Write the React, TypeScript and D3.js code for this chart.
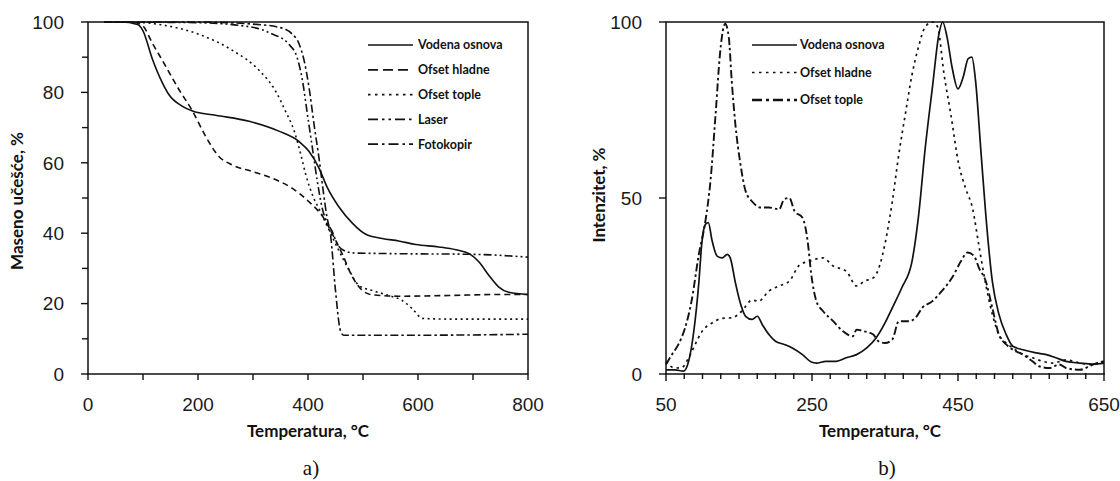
import React from 'react';
import * as d3 from 'd3';

// ---------- Data: panel a) TGA (temperature °C, mass %) ----------
const tgaVodena: [number, number][] = [
  [30, 100], [60, 100], [90, 99.3], [100, 97.5], [117, 89.5], [135, 82.8], [147, 79.4], [171, 76.1],
  [190, 74.7], [232, 73.5], [293, 71.8], [347, 69], [384, 66], [402, 63.2], [420, 58.5], [435, 53],
  [456, 47.5], [481, 42.8], [505, 39.7], [535, 38.5], [565, 37.8], [596, 36.8], [638, 36.1],
  [669, 35.3], [693, 34.2], [711, 31.8], [729, 28], [747, 24.7], [765, 23.2], [800, 22.6],
];
const tgaOfsetHladne: [number, number][] = [
  [30, 100], [80, 100], [99, 99], [117, 94], [141, 87.5], [165, 80.9], [190, 74.7], [214, 67.5],
  [238, 61.8], [262, 59.4], [299, 57.5], [335, 55.6], [371, 52.8], [402, 48.9], [429, 44.2],
  [444, 39.9], [462, 34.2], [481, 27.5], [499, 23.7], [517, 22.5], [565, 22.1], [656, 22.3],
  [747, 22.6], [800, 22.6],
];
const tgaOfsetTople: [number, number][] = [
  [30, 100], [100, 99.8], [141, 99], [202, 96.5], [262, 92], [311, 86.3], [341, 80.4], [359, 74.7],
  [375, 69], [387, 62.3], [396, 56.6], [408, 50.9], [423, 46], [438, 41], [456, 35.1], [475, 29.4],
  [493, 25.1], [517, 23.7], [547, 22.3], [571, 20.9], [590, 18.5], [608, 15.8], [656, 15.6], [800, 15.6],
];
const tgaLaser: [number, number][] = [
  [30, 100], [200, 99.8], [299, 98.5], [335, 96.6], [365, 93.7], [380, 90], [390, 83.3], [399, 73.7],
  [408, 64.2], [417, 54.7], [426, 47], [435, 43], [444, 40.5], [453, 37], [462, 35.4], [481, 34.4],
  [550, 34.2], [700, 34], [800, 33.2],
];
const tgaFotokopir: [number, number][] = [
  [30, 100], [200, 100], [299, 99.4], [347, 98.5], [371, 96.6], [384, 93.7], [393, 89], [402, 81.3],
  [411, 70.9], [420, 61.3], [427, 52.8], [434, 45], [441, 39.5], [450, 23.7], [459, 12.3], [465, 11],
  [550, 11], [700, 11.1], [800, 11.3],
];

// ---------- Data: panel b) intensity (temperature °C, %) ----------
const dtgVodena: [number, number][] = [
  [50, 1.2], [62, 1.2], [74, 0.8], [81, 3.6], [88, 12], [95, 26], [99, 37], [104, 42.5], [108, 43],
  [113, 38], [120, 33.5], [127, 33], [134, 34], [138, 33], [145, 26], [152, 20], [159, 16.4],
  [168, 15.5], [175, 16.4], [182, 14], [191, 11.2], [200, 9.3], [212, 8.4], [223, 7.4], [237, 5.5],
  [249, 3.4], [256, 3.1], [269, 3.6], [283, 3.6], [297, 4.6], [311, 5.5], [325, 7.4], [338, 10.3],
  [350, 14.5], [360, 18.8], [373, 24.5], [387, 32], [396, 45], [405, 64], [415, 81.5], [424, 96.7],
  [429, 100], [435, 95.7], [442, 87], [450, 81], [457, 84.3], [464, 89.6], [469, 90], [474, 83.4],
  [481, 64.4], [488, 45.4], [497, 26.4], [506, 17], [516, 11.2], [525, 7.9], [539, 6.9], [557, 6],
  [571, 5.5], [584, 4.6], [598, 3.6], [617, 3.1], [635, 2.8], [650, 3.1],
];
const dtgOfsetHladne: [number, number][] = [
  [50, 3.6], [62, 1.7], [72, 1.9], [81, 4.6], [90, 8.4], [99, 12], [113, 14.5], [127, 15.8], [141, 16],
  [154, 17.9], [168, 21], [177, 20.7], [191, 23.6], [205, 25], [219, 26.4], [233, 31], [246, 32],
  [265, 33], [279, 30.7], [297, 29.2], [311, 25], [322, 26.4], [334, 27.3], [343, 31], [350, 37],
  [360, 49], [369, 62.5], [378, 74], [387, 85], [396, 93], [405, 98.6], [415, 100], [422, 98.6],
  [431, 85], [440, 74], [451, 59.6], [460, 53], [470, 47], [479, 36], [488, 25.5], [497, 17],
  [506, 11.2], [516, 8.8], [525, 7.4], [539, 5.5], [552, 4.6], [566, 3.6], [580, 3.1], [598, 4],
  [617, 3.1], [635, 2.7], [650, 3.6],
];
const dtgOfsetTople: [number, number][] = [
  [50, 2.7], [58, 5.5], [67, 8.4], [76, 13], [85, 20.7], [95, 34], [104, 43.5], [111, 55], [118, 74],
  [124, 91], [129, 98.6], [131, 99.5], [136, 95.7], [140, 83.4], [145, 71], [152, 59.6], [159, 52],
  [168, 49], [180, 47.3], [191, 47.3], [205, 46.8], [212, 49.7], [219, 50], [226, 46.3], [237, 44.4],
  [244, 37.8], [249, 28.3], [256, 20.7], [265, 17.9], [279, 15], [292, 12.2], [306, 10.7], [311, 12.6],
  [320, 12.2], [334, 11.2], [341, 9.3], [350, 8.8], [360, 9.8], [369, 15], [383, 15], [392, 16],
  [401, 18.8], [415, 20.7], [428, 23.6], [442, 27.4], [454, 32], [463, 34.5], [472, 33.5], [479, 30],
  [488, 26.4], [497, 18.8], [506, 11.2], [516, 8.4], [525, 6.9], [539, 5.5], [552, 3.6], [561, 2.2],
  [575, 1.7], [589, 2.7], [598, 1.7], [617, 1.2], [630, 2.2], [640, 3.1], [650, 3.6],
];

const tgaNames = ['Vodena osnova', 'Ofset hladne', 'Ofset tople', 'Laser', 'Fotokopir'];
const tgaData = [tgaVodena, tgaOfsetHladne, tgaOfsetTople, tgaLaser, tgaFotokopir];
const dtgNames = ['Vodena osnova', 'Ofset hladne', 'Ofset tople'];
const dtgData = [dtgVodena, dtgOfsetHladne, dtgOfsetTople];

const leftYLabels = [0, 20, 40, 60, 80, 100];
const leftYMinor = [10, 30, 50, 70, 90];
const leftXTicks = [0, 100, 200, 300, 400, 500, 600, 700, 800];
const leftXLabels = [0, 200, 400, 600, 800];
const rightXLabels = [50, 250, 450, 650];
const rightYLabels = [0, 50, 100];

// ---------- styles ----------
const tgaDash = [null, '6,4', '2,3.5', '8,3,2,3,2,3', '8,3,2.5,3'];
const tgaLegendDash = [null, '10,5', '2.5,4.5', '10,4,2.5,4,2.5,4', '10,4,2.5,4'];
const dtgDash = [null, '2.5,4', '8,3,2.5,3'];
const dtgLegendDash = [null, '2.5,4.5', '10,4,3,4'];

const tickFont = '"Liberation Sans", Arial, sans-serif';
const boldFont = 'Lato, "Open Sans", sans-serif';

export default function App() {
  // panel a
  const xa = d3.scaleLinear().domain([0, 800]).range([88, 528]);
  const ya = d3.scaleLinear().domain([0, 100]).range([374, 22]);
  // panel b
  const xb = d3.scaleLinear().domain([50, 650]).range([666, 1104]);
  const yb = d3.scaleLinear().domain([0, 100]).range([374, 22]);

  const lineA = d3.line<[number, number]>().x(d => xa(d[0])).y(d => ya(d[1])).curve(d3.curveMonotoneX);
  const lineB = d3.line<[number, number]>().x(d => xb(d[0])).y(d => yb(d[1])).curve(d3.curveMonotoneX);
  const rightXTicks = d3.range(50, 651, 25);

  const ink = '#111';

  return (
    <svg width={1120} height={481} style={{ position: 'absolute', left: 0, top: 0, background: '#fff' }}>
      <rect x={0} y={0} width={1120} height={481} fill="#fff" />

      {/* ===== Panel a ===== */}
      <rect x={xa(0)} y={ya(100)} width={xa(800) - xa(0)} height={ya(0) - ya(100)} fill="none" stroke={ink} strokeWidth={1.5} />
      {leftYLabels.map(v => (
        <g key={'ay' + v}>
          <line x1={xa(0) - 7} x2={xa(0)} y1={ya(v)} y2={ya(v)} stroke={ink} strokeWidth={1.4} />
          <text x={xa(0) - 24} y={ya(v)} dy="0.36em" textAnchor="end" fontFamily={tickFont} fontSize={19} fill="#1a1a1a">{v}</text>
        </g>
      ))}
      {leftYMinor.map(v => (
        <line key={'aym' + v} x1={xa(0) - 6} x2={xa(0)} y1={ya(v)} y2={ya(v)} stroke={ink} strokeWidth={1.4} />
      ))}
      {leftXTicks.map(v => (
        <line key={'axt' + v} x1={xa(v)} x2={xa(v)} y1={ya(0)} y2={ya(0) + 6} stroke={ink} strokeWidth={1.4} />
      ))}
      {leftXLabels.map(v => (
        <text key={'axl' + v} x={xa(v)} y={411} textAnchor="middle" fontFamily={tickFont} fontSize={19} fill="#1a1a1a">{v}</text>
      ))}
      <text x={308} y={437} textAnchor="middle" fontFamily={boldFont} fontWeight={700} fontSize={17} fill={ink}>Temperatura, °C</text>
      <text transform="translate(23,201) rotate(-90)" textAnchor="middle" fontFamily={boldFont} fontWeight={700} fontSize={17} fill={ink}>Maseno učešće, %</text>

      {tgaData.map((d, i) => (
        <path key={'ta' + i} d={lineA(d) || ''} fill="none" stroke={ink} strokeWidth={1.6}
          strokeDasharray={tgaDash[i] || undefined} />
      ))}
      {tgaNames.map((n, i) => {
        const ly = 45 + i * 24.8;
        return (
          <g key={'la' + i}>
            <line x1={368} x2={413} y1={ly} y2={ly} stroke={ink} strokeWidth={1.7} strokeDasharray={tgaLegendDash[i] || undefined} />
            <text x={418} y={ly} dy="0.35em" fontFamily={boldFont} fontWeight={700} fontSize={12.5} fill={ink}>{n}</text>
          </g>
        );
      })}
      <text x={311} y={475} textAnchor="middle" fontFamily='"Liberation Serif", "Times New Roman", serif' fontSize={21} fill={ink}>a)</text>

      {/* ===== Panel b ===== */}
      <rect x={xb(50)} y={yb(100)} width={xb(650) - xb(50)} height={yb(0) - yb(100)} fill="none" stroke={ink} strokeWidth={1.5} />
      {rightYLabels.map(v => (
        <g key={'by' + v}>
          <line x1={xb(50) - 7} x2={xb(50)} y1={yb(v)} y2={yb(v)} stroke={ink} strokeWidth={1.4} />
          <text x={xb(50) - 24} y={yb(v)} dy="0.36em" textAnchor="end" fontFamily={tickFont} fontSize={19} fill="#1a1a1a">{v}</text>
        </g>
      ))}
      {rightXTicks.map(v => (
        <line key={'bxt' + v} x1={xb(v)} x2={xb(v)} y1={yb(0) - 1} y2={yb(0) + (rightXLabels.includes(v) ? 7 : 5)} stroke={ink} strokeWidth={1.4} />
      ))}
      {rightXLabels.map(v => (
        <text key={'bxl' + v} x={xb(v)} y={411} textAnchor="middle" fontFamily={tickFont} fontSize={19} fill="#1a1a1a">{v}</text>
      ))}
      <text x={880} y={437} textAnchor="middle" fontFamily={boldFont} fontWeight={700} fontSize={17} fill={ink}>Temperatura, °C</text>
      <text transform="translate(605,195) rotate(-90)" textAnchor="middle" fontFamily={boldFont} fontWeight={700} fontSize={17} fill={ink}>Intenzitet, %</text>

      {dtgData.map((d, i) => (
        <path key={'tb' + i} d={lineB(d) || ''} fill="none" stroke={ink} strokeWidth={i === 2 ? 1.9 : 1.7}
          strokeDasharray={dtgDash[i] || undefined} />
      ))}
      {dtgNames.map((n, i) => {
        const ly = 45 + i * 27.5;
        return (
          <g key={'lb' + i}>
            <line x1={752} x2={797} y1={ly} y2={ly} stroke={ink} strokeWidth={i === 2 ? 2.4 : 1.7} strokeDasharray={dtgLegendDash[i] || undefined} />
            <text x={800} y={ly} dy="0.35em" fontFamily={boldFont} fontWeight={700} fontSize={12.5} fill={ink}>{n}</text>
          </g>
        );
      })}
      <text x={887} y={475} textAnchor="middle" fontFamily='"Liberation Serif", "Times New Roman", serif' fontSize={21} fill={ink}>b)</text>
    </svg>
  );
}
